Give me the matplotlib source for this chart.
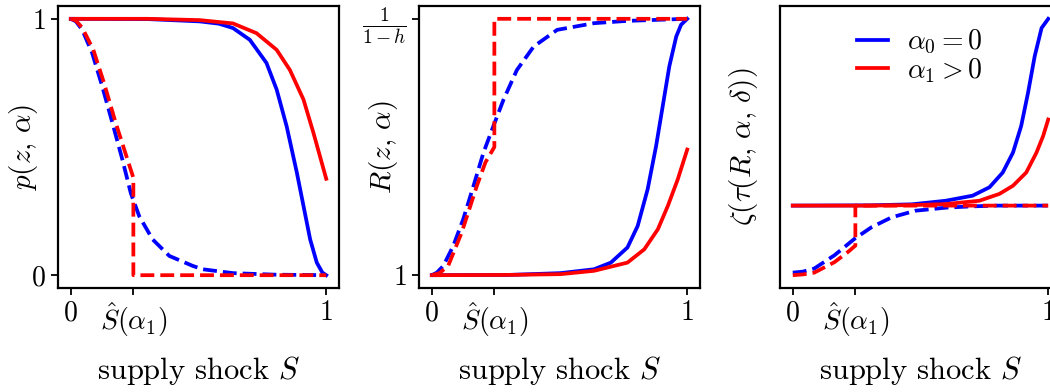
import matplotlib
matplotlib.use("Agg")
import matplotlib.pyplot as plt
import numpy as np

plt.rcParams['font.family'] = 'serif'
plt.rcParams['font.serif'] = ['cmr10']
plt.rcParams['mathtext.fontset'] = 'cm'
plt.rcParams['axes.unicode_minus'] = False

s_hat = 0.245
h = 0.5  # so that 1/(1-h) = 2

# panel 1: p(z, alpha)
p_blue_solid_s = [0, 0.3, 0.504, 0.58, 0.635, 0.701, 0.766, 0.806, 0.845, 0.885, 0.911, 0.937, 0.963, 0.985, 1.0]
p_blue_solid = [1, 0.999, 0.99, 0.981, 0.964, 0.918, 0.828, 0.724, 0.581, 0.40, 0.27, 0.14, 0.049, 0.01, 0]
p_red_solid_s = [0, 0.3, 0.504, 0.635, 0.727, 0.806, 0.858, 0.911, 0.95, 1.0]
p_red_solid = [1, 1, 0.995, 0.982, 0.944, 0.879, 0.80, 0.685, 0.555, 0.376]
p_blue_dash_s = [0, 0.02, 0.045, 0.084, 0.123, 0.163, 0.202, 0.235, 0.268, 0.32, 0.386, 0.478, 0.517, 0.635, 0.8, 1.0]
p_blue_dash = [1, 0.99, 0.957, 0.866, 0.737, 0.594, 0.451, 0.32, 0.23, 0.14, 0.075, 0.036, 0.023, 0.008, 0.002, 0]
p_red_dash_s = [0, 0.02, 0.045, 0.088, 0.13, 0.176, 0.222, s_hat, s_hat, 1.0]
p_red_dash = [1, 0.993, 0.965, 0.88, 0.75, 0.594, 0.451, 0.38, 0, 0]

# panel 2: R(z, alpha), values between 1 and 1/(1-h)
r_blue_solid_s = [0, 0.3, 0.504, 0.635, 0.701, 0.766, 0.806, 0.845, 0.878, 0.904, 0.93, 0.957, 0.976, 1.0]
r_blue_solid = [1, 1.001, 1.008, 1.023, 1.049, 1.108, 1.192, 1.335, 1.503, 1.659, 1.815, 1.931, 1.977, 2.0]
r_red_solid_s = [0, 0.3, 0.504, 0.635, 0.766, 0.832, 0.885, 0.924, 0.963, 1.0]
r_red_solid = [1, 1.001, 1.004, 1.017, 1.049, 1.101, 1.179, 1.27, 1.374, 1.49]
r_blue_dash_s = [0, 0.02, 0.045, 0.084, 0.123, 0.163, 0.202, 0.241, 0.281, 0.333, 0.399, 0.491, 0.635, 0.766, 1.0]
r_blue_dash = [1, 1.01, 1.036, 1.114, 1.218, 1.347, 1.477, 1.581, 1.685, 1.80, 1.892, 1.957, 1.983, 1.992, 2.0]
r_red_dash_s = [0, 0.03, 0.064, 0.117, 0.176, 0.21, s_hat, s_hat, 1.0]
r_red_dash = [1, 1.008, 1.036, 1.166, 1.347, 1.44, 1.50, 2.0, 2.0]

# panel 3: zeta(tau(R, alpha, delta))
z_blue_solid_s = [0, 0.3, 0.466, 0.598, 0.704, 0.77, 0.822, 0.862, 0.894, 0.921, 0.947, 0.974, 1.0]
z_blue_solid = [0.267, 0.268, 0.272, 0.286, 0.306, 0.339, 0.397, 0.475, 0.579, 0.71, 0.853, 0.964, 1.0]
z_red_solid_s = [0, 0.3, 0.466, 0.598, 0.73, 0.809, 0.862, 0.914, 0.954, 0.98, 1.0]
z_red_solid = [0.267, 0.267, 0.269, 0.273, 0.286, 0.313, 0.345, 0.397, 0.475, 0.54, 0.605]
z_blue_dash_s = [0, 0.04, 0.084, 0.163, 0.242, 0.308, 0.387, 0.48, 0.6, 0.7, 0.8, 1.0]
z_blue_dash = [0.004, 0.008, 0.02, 0.072, 0.137, 0.182, 0.221, 0.247, 0.259, 0.264, 0.267, 0.267]
z_red_dash_s = [0, 0.04, 0.084, 0.163, 0.216, s_hat, s_hat, 1.0]
z_red_dash = [-0.006, -0.003, 0.004, 0.045, 0.085, 0.11, 0.267, 0.267]

xticks = [0, s_hat, 1]
xticklabels = [r'$0$', r'$\hat{S}(\alpha_1)$', r'$1$']

fig = plt.figure(figsize=(10.5, 3.92), dpi=100)
lefts = [58, 419, 780]
axes = [fig.add_axes([l / 1050, 1 - 288 / 392, 281 / 1050, 282 / 392]) for l in lefts]

panels = [
    (p_blue_solid_s, p_blue_solid, p_red_solid_s, p_red_solid,
     p_blue_dash_s, p_blue_dash, p_red_dash_s, p_red_dash),
    (r_blue_solid_s, r_blue_solid, r_red_solid_s, r_red_solid,
     r_blue_dash_s, r_blue_dash, r_red_dash_s, r_red_dash),
    (z_blue_solid_s, z_blue_solid, z_red_solid_s, z_red_solid,
     z_blue_dash_s, z_blue_dash, z_red_dash_s, z_red_dash),
]
ylabels = [r'$p(z,\,\alpha)$', r'$R(z,\,\alpha)$', r'$\zeta(\tau(R,\,\alpha,\,\delta))$']
ylabel_x = [-0.064, -0.068, -0.071]

lw = 2.7
for ax, d, yl, yx in zip(axes, panels, ylabels, ylabel_x):
    ax.plot(d[0], d[1], color='blue', lw=lw, label=r'$\alpha_0=0$')
    ax.plot(d[2], d[3], color='red', lw=lw, label=r'$\alpha_1>0$')
    ax.plot(d[4], d[5], color='blue', lw=lw, ls='--')
    ax.plot(d[6], d[7], color='red', lw=lw, ls='--')
    ax.set_xticks(xticks)
    ax.set_xticklabels(xticklabels)
    ax.set_xlabel(r'supply shock $S$', fontsize=22)
    ax.xaxis.set_label_coords(0.5, -0.235)
    ax.set_ylabel(yl, fontsize=21)
    ax.yaxis.set_label_coords(yx, 0.5)
    ax.tick_params(labelsize=20, length=5, width=1.3, direction='out')
    for sp in ax.spines.values():
        sp.set_linewidth(1.6)

axes[0].set_yticks([0, 1])
axes[0].set_yticklabels([r'$0$', r'$1$'])
axes[1].set_yticks([1, 1 / (1 - h)])
axes[1].set_yticklabels([r'$1$', r'$\frac{1}{1-h}$'])
axes[2].set_yticks([])
axes[2].legend(loc='upper left', bbox_to_anchor=(0.185, 1.01), frameon=False,
               fontsize=20, handlelength=1.1, handletextpad=0.7, labelspacing=0.0)

fig.savefig('out.png', dpi=100)
